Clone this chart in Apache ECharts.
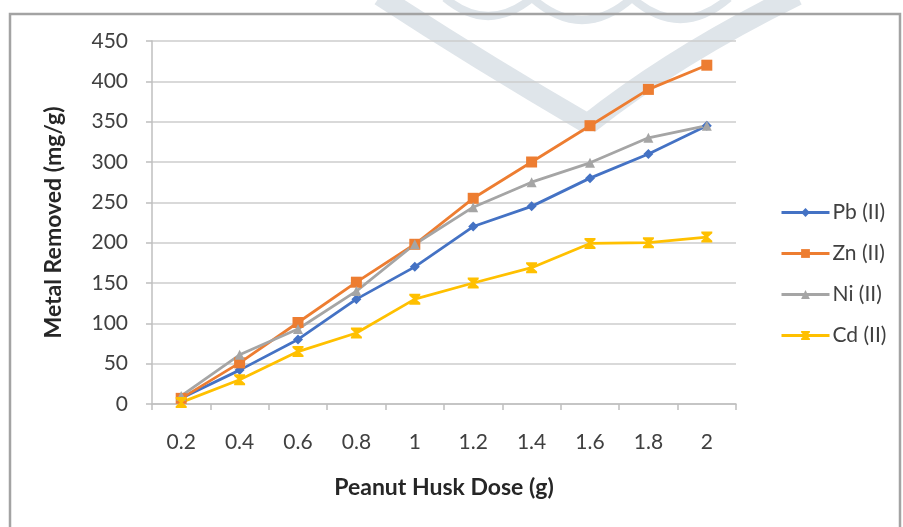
<!DOCTYPE html>
<html>
<head>
<meta charset="utf-8">
<title>Metal removal vs peanut husk dose</title>
<script src="https://cdn.jsdelivr.net/npm/echarts@6/dist/echarts.min.js"></script>
<style>
  html, body { margin: 0; padding: 0; background: #ffffff; }
  #chart { width: 903px; height: 527px; }
</style>
</head>
<body>
<div id="chart"></div>
<script>
// Peanut husk dose (g)
var doses = ['0.2', '0.4', '0.6', '0.8', '1', '1.2', '1.4', '1.6', '1.8', '2'];

// Metal removed (mg/g) per dose
var pbValues = [7, 42, 80, 130, 170, 220, 245, 280, 310, 345];
var znValues = [7, 51, 101, 151, 198, 255, 300, 345, 390, 420];
var niValues = [10, 61, 93, 140, 198, 244, 275, 299, 330, 345];
var cdValues = [2, 30, 65, 88, 130, 150, 169, 199, 200, 207];

// Value axis ticks
var yMin = 0, yMax = 450, yStep = 50;

var FONT = 'Lato, "Liberation Sans", Arial, sans-serif';
var hourglass = 'path://M0,0 L10,0 L10,1.6 L6.2,5 L10,8.4 L10,10 L0,10 L0,8.4 L3.8,5 L0,1.6 Z';

function lineSeries(name, data, color, symbol, size) {
  return {
    name: name,
    type: 'line',
    data: data,
    symbol: symbol,
    symbolSize: size,
    showSymbol: true,
    lineStyle: { color: color, width: 2.8 },
    itemStyle: { color: color, borderColor: color, borderWidth: 0 },
    emphasis: { disabled: true },
    animation: false
  };
}

var chart = echarts.init(document.getElementById('chart'), null, { renderer: 'canvas' });

var band = '#dfe5ea';

chart.setOption({
  backgroundColor: '#ffffff',
  animation: false,
  textStyle: { fontFamily: FONT },
  graphic: {
    elements: [
      // faint logo in the background
      { type: 'bezierCurve', z: -10, silent: true,
        shape: { x1: 380, y1: -4, cpx1: 478, cpy1: 60, x2: 588, y2: 124 },
        style: { stroke: band, lineWidth: 20, fill: null } },
      { type: 'bezierCurve', z: -10, silent: true,
        shape: { x1: 797, y1: -5, cpx1: 675, cpy1: 55, x2: 588, y2: 124 },
        style: { stroke: band, lineWidth: 21, fill: null } },
      { type: 'bezierCurve', z: -10, silent: true,
        shape: { x1: 445, y1: -2, cpx1: 488, cpy1: 34, x2: 532, y2: -2 },
        style: { stroke: band, lineWidth: 8, fill: null } },
      { type: 'bezierCurve', z: -10, silent: true,
        shape: { x1: 532, y1: -2, cpx1: 582, cpy1: 42, x2: 632, y2: -2 },
        style: { stroke: band, lineWidth: 8, fill: null } },
      { type: 'bezierCurve', z: -10, silent: true,
        shape: { x1: 632, y1: -2, cpx1: 680, cpy1: 40, x2: 729, y2: -2 },
        style: { stroke: band, lineWidth: 8, fill: null } },
      // chart frame
      { type: 'rect', z: 100, silent: true,
        shape: { x: 10, y: 14, width: 890, height: 540 },
        style: { stroke: '#a3a3a3', lineWidth: 2.5, fill: null } }
    ]
  },
  grid: { left: 152, right: 167, top: 41, bottom: 123, containLabel: false },
  legend: {
    orient: 'vertical',
    left: 775,
    top: 197,
    itemWidth: 48,
    itemHeight: 11,
    itemGap: 20,
    lineStyle: { width: 3 },
    textStyle: { fontFamily: FONT, fontSize: 21, color: '#404040', padding: [0, 0, 0, -2] },
    data: ['Pb (II)', 'Zn (II)', 'Ni (II)', 'Cd (II)']
  },
  xAxis: {
    type: 'category',
    data: doses,
    boundaryGap: true,
    name: 'Peanut Husk Dose (g)',
    nameLocation: 'middle',
    nameGap: 72,
    nameTextStyle: { fontFamily: FONT, fontSize: 23, fontWeight: 'bold', color: '#262626' },
    axisLine: { lineStyle: { color: '#bfbfbf', width: 1.5 } },
    axisTick: { show: true, length: 6, lineStyle: { color: '#bfbfbf', width: 1.5 } },
    axisLabel: { fontFamily: FONT, fontSize: 21, color: '#404040', margin: 28 },
    splitLine: { show: false }
  },
  yAxis: {
    type: 'value',
    min: yMin,
    max: yMax,
    interval: yStep,
    name: 'Metal Removed (mg/g)',
    nameLocation: 'middle',
    nameRotate: 90,
    nameGap: 87,
    nameTextStyle: { fontFamily: FONT, fontSize: 23, fontWeight: 'bold', color: '#262626' },
    axisLine: { show: true, lineStyle: { color: '#bfbfbf', width: 1.5 } },
    axisTick: { show: true, length: 6, lineStyle: { color: '#bfbfbf', width: 1.5 } },
    axisLabel: { fontFamily: FONT, fontSize: 21, color: '#404040', margin: 24 },
    splitLine: { show: true, lineStyle: { color: '#cdcdcd', width: 1.6 } }
  },
  series: [
    lineSeries('Pb (II)', pbValues, '#4472c4', 'diamond', 10),
    lineSeries('Zn (II)', znValues, '#ed7d31', 'rect', 11),
    lineSeries('Ni (II)', niValues, '#a5a5a5', 'triangle', 10),
    lineSeries('Cd (II)', cdValues, '#ffc000', hourglass, 11)
  ]
});
</script>
</body>
</html>
